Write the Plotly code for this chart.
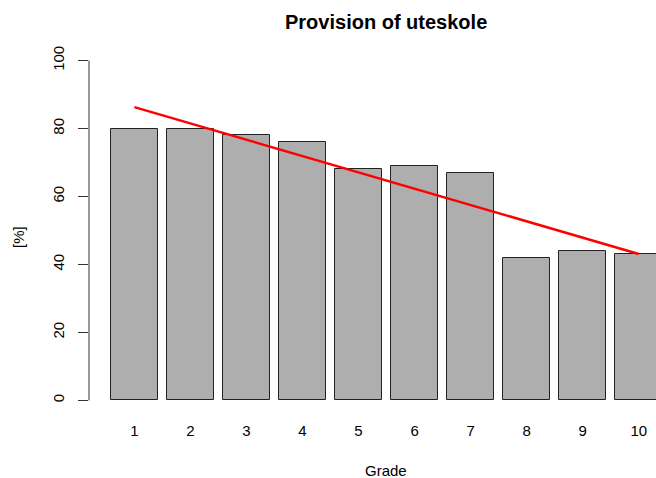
import plotly.graph_objects as go

grades = ["1", "2", "3", "4", "5", "6", "7", "8", "9", "10"]
provision = [80, 80, 78, 76, 68, 69, 67, 42, 44, 43]
trend_ends = [86.3, 43.1]  # fitted trend at grade 1 and grade 10
y_ticks = [0, 20, 40, 60, 80, 100]

# R barplot geometry: width 1, space 0.2
centers = [0.7 + 1.2 * i for i in range(len(grades))]

fig = go.Figure()
fig.add_trace(go.Bar(
    x=centers, y=provision, width=1.0,
    marker=dict(color="#AEAEAE", line=dict(color="#222222", width=1)),
    showlegend=False, hoverinfo="skip",
))
fig.add_trace(go.Scatter(
    x=[centers[0], centers[-1]], y=trend_ends, mode="lines",
    line=dict(color="#FF0000", width=2.5), showlegend=False,
))

font = "Liberation Sans, Arial, Helvetica, sans-serif"
L, R, T, B = 89, 0, 47, 64
W, H = 656, 478
pw, ph = W - L - R, H - T - B


def px2paper(px, py):
    return (px - L) / pw, (H - B - py) / ph


ann_specs = [
    ("<b>Provision of uteskole</b>", 386, 22, 20, 0),
    ("Grade", 386, 470, 15, 0),
    ("[%]", 18, 237, 15, -90),
]
annotations = []
for text, px, py, size, ang in ann_specs:
    ax, ay = px2paper(px, py)
    annotations.append(dict(text=text, x=ax, y=ay, xref="paper", yref="paper",
                            xanchor="center", yanchor="middle", showarrow=False,
                            textangle=ang, font=dict(size=size)))

fig.update_layout(
    width=W, height=H,
    margin=dict(l=L, r=R, t=T, b=B, pad=0),
    paper_bgcolor="white", plot_bgcolor="white",
    font=dict(family=font, size=15, color="black"),
    bargap=0,
    xaxis=dict(
        range=[-0.272, 11.87], tickvals=centers, ticktext=grades,
        showgrid=False, zeroline=False, showline=False,
        ticks="outside", ticklen=3, tickcolor="rgba(0,0,0,0)",
        tickfont=dict(size=15),
    ),
    yaxis=dict(
        range=[-4, 104], tickvals=y_ticks, ticktext=[str(v) for v in y_ticks],
        showgrid=False, zeroline=False, showline=False,
        ticks="outside", ticklen=10, tickwidth=1, tickcolor="#333333",
        tickangle=-90, tickfont=dict(size=15), ticklabelstandoff=8,
    ),
    shapes=[dict(type="line", xref="paper", x0=0, x1=0, yref="y", y0=0, y1=100,
                 line=dict(color="#333333", width=1))],
    annotations=annotations,
)

fig.write_html(
    "out.html",
    config={"displayModeBar": False},
    post_script="document.body.style.margin='0';document.body.style.padding='0';"
                "document.body.style.overflow='hidden';",
)
